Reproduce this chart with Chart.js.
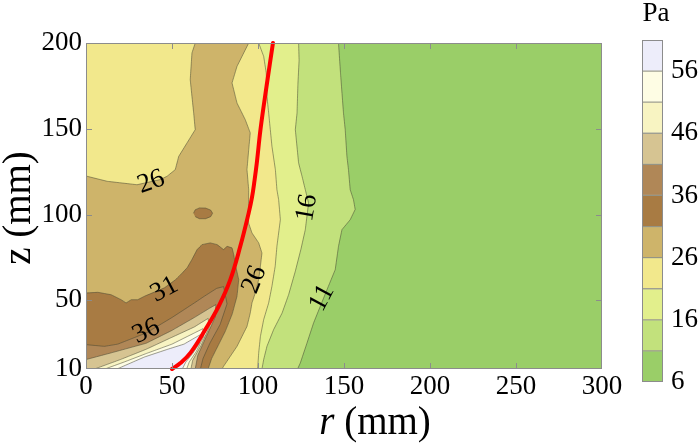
<!DOCTYPE html>
<html>
<head>
<meta charset="utf-8">
<script src="https://cdn.jsdelivr.net/npm/chart.js@4.4.1/dist/chart.umd.min.js"></script>
<style>
  html, body { margin: 0; padding: 0; background: #fff; }
  #wrap { position: relative; width: 700px; height: 447px; }
  #main { position: absolute; left: 0; top: 0; }
  #bar { position: absolute; left: 620px; top: 0; }
</style>
</head>
<body>
<div id="wrap">
  <canvas id="main" width="700" height="447"></canvas>
  <canvas id="bar" width="80" height="447"></canvas>
</div>
<script>
// contour levels (Pa) and the fill colour of each band above a level
const levels = [6, 11, 16, 21, 26, 31, 36, 41, 46, 51, 56, 61];
const bandColors = ['#9ace68', '#c2e17c', '#e2ef8c', '#f2e88c', '#ceb46a', '#a87b43', '#b08757',
                    '#d6c492', '#f8f4c2', '#fefde4', '#ededfa'];

// axis ticks
const rTicks = [0, 50, 100, 150, 200, 250, 300];
const zTicks = [10, 50, 100, 150, 200];
const cbTicks = [6, 16, 26, 36, 46, 56];

// regions above each level, [r, z] in mm (points outside the frame just close the shape)
const c6 = [[-10, 0], [310, 0], [310, 215], [-10, 215]];
const c11 = [[-10, 215], [146.8, 215], [146.8, 200], [148, 182], [149.7, 159.2], [150.7, 149.5], [151.7, 133.9],
  [152.6, 126.2], [153.6, 114.5], [155.5, 108.7], [156.5, 103], [153.6, 97], [148.8, 91.2], [146.8, 81.5],
  [144.9, 67.9], [140.1, 56.2], [136.2, 46.5], [132.3, 36.8], [128.5, 25.2], [124.6, 13.5], [123, 10], [123, 0], [-10, 0]];
const c16 = [[-10, 215], [123.6, 215], [123.6, 200], [123.9, 190], [123.2, 176], [122.7, 159.2], [121.7, 149.5],
  [123.6, 130.1], [125.6, 122.3], [127.5, 114.5], [129.4, 106.8], [127.5, 91.2], [125, 80], [121.7, 67], [117.8, 53.3],
  [114, 42.6], [109.1, 33], [105.2, 23.2], [103.3, 15.5], [102.3, 10], [102.3, 0], [-10, 0]];
const c21 = [[-10, 215], [100.4, 215], [100.4, 200], [103.3, 192.2], [104.8, 182.5], [105.2, 168.9], [106.2, 159.2],
  [108.1, 139.8], [110.1, 126.2], [111, 114.5], [112, 108.7], [113, 97], [111, 81.5], [110, 69.9], [108.1, 58.2],
  [106.2, 48.5], [103.3, 38.8], [101.4, 29], [100.4, 19.4], [99.8, 10], [99.8, 0], [-10, 0]];
const c26 = [[-10, 0], [-10, 122.3], [0.7, 122.3], [12.3, 119.4], [29.7, 117.4], [43.2, 120.4], [47.1, 122.3],
  [51.9, 126.2], [53.9, 133.9], [58.7, 141.7], [63.5, 149.5], [62.6, 159.2], [60.6, 178.6], [61.6, 194.2], [63.5, 200],
  [63.5, 215], [94.6, 215], [94.6, 200], [87.8, 186.4], [84.9, 176.7], [87.8, 165], [92.6, 155.3], [95.5, 147.6],
  [94.6, 137.8], [93.6, 126.2], [94.6, 114.5], [94.5, 102.9], [94.5, 95.1], [96.5, 89.3], [100.4, 83.5], [102.3, 77.6],
  [101.4, 69.9], [100.4, 62.1], [98.4, 54.3], [96.5, 48.5], [95.5, 42.6], [93.6, 34.8], [90.7, 29], [87.8, 23.2],
  [83.9, 17.4], [80, 11.6], [79.1, 10], [79.1, 0]];
const c31 = [[-10, 0], [-10, 54.3], [0, 54.3], [6.9, 54.7], [14.6, 53.3], [20.4, 50.4], [23.3, 48.5], [26.3, 50.4],
  [30.1, 50.4], [34, 52.4], [45.6, 57.3], [52, 62], [56, 66], [58.8, 69], [61.7, 74], [64.6, 79.6], [67.5, 82.5],
  [72.3, 83.5], [76.2, 82.5], [80, 79.6], [82, 81.5], [84.9, 80.6], [85.9, 76.7], [86.8, 70.9], [88.8, 62.1],
  [87.8, 52.4], [85, 42], [81, 32], [77, 24], [73, 16], [71, 10], [71, 0]];
const c31isle = [[62.5, 100.8], [63.5, 102.8], [66, 103.9], [69.5, 103.8], [72.5, 102.6], [73.6, 100.8],
  [72.5, 98.8], [69.5, 97.6], [66, 97.6], [63.5, 98.8]];
const c36 = [[-10, 0], [-10, 24.2], [0, 24.2], [10.7, 23.2], [18.5, 24.5], [35, 31], [50, 40], [57.2, 44.7],
  [63, 48.5], [68.8, 52.4], [76, 57], [80, 58], [82, 48], [78, 36], [72, 25], [68, 16], [66.5, 10], [66.5, 0]];
const c41 = [[-10, 0], [-10, 15.5], [0, 15.5], [15, 19.5], [35, 25], [50, 32.5], [63, 40], [72, 45.5], [75.5, 47.5],
  [75, 40], [70, 29], [65, 18], [63.5, 10], [63.5, 0]];
const c46 = [[5, 0], [5, 10], [20, 15.5], [35, 21.5], [50, 28.5], [63, 34.5], [71, 39.5], [71.5, 34], [67, 24],
  [62, 15], [61, 10], [61, 0]];
const c51 = [[11, 0], [11, 10], [22, 14], [35, 19], [50, 24.5], [63, 31], [68, 33.5], [68.5, 29], [64, 20], [60, 14],
  [58.5, 10], [58.5, 0]];
const c56 = [[18, 0], [18, 10], [34, 17], [47.5, 21.5], [57, 24.5], [63, 28], [66.5, 30], [66, 25], [62, 19],
  [58, 14], [56, 10], [56, 0]];

// red curve
const curve = [[50, 10], [54.9, 13.5], [60.7, 19.4], [69.4, 33], [77.1, 46.5], [83.9, 62.1], [89.7, 81.5],
  [94.6, 101], [96.5, 110], [98, 120], [99.3, 130], [101.5, 150], [105, 175], [108.7, 200]];

// contour labels: text and anchor [r, z]
const labelText = ['26', '16', '11', '26', '31', '36'];
const labelAt = [[37.9, 119], [128.5, 104], [137.2, 51.4], [97.9, 62.1], [45.6, 56.3], [35, 32]];
const labelTilt = [-20, -80, -62, -68, -28, -25];

const serif = '"Liberation Serif", "Times New Roman", serif';

const regions = [
  [c6, 0], [c11, 1], [c16, 2], [c21, 3], [c26, 4], [c31, 5], [c31isle, 5],
  [c36, 6], [c41, 7], [c46, 8], [c51, 9], [c56, 10]
];

const datasets = [{
  data: curve.map(p => ({x: p[0], y: p[1]})),
  showLine: true,
  borderColor: '#ff0000',
  borderWidth: 4,
  borderCapStyle: 'round',
  pointRadius: 0,
  pointHoverRadius: 0,
  tension: 0.4,
  fill: false,
  clip: 2,
  order: 0
}];
regions.forEach(([pts, band], i) => {
  datasets.push({
    data: pts.map(p => ({x: p[0], y: p[1]})),
    showLine: true,
    fill: 'shape',
    backgroundColor: bandColors[band],
    borderColor: i === 0 ? 'rgba(0,0,0,0)' : 'rgba(70,70,50,0.65)',
    borderWidth: i === 0 ? 0 : 0.8,
    pointRadius: 0,
    pointHoverRadius: 0,
    tension: 0.001,          // keeps the plain polygon path (no pixel-merging fast path)
    capBezierPoints: false,
    clip: 0,
    order: 100 - i
  });
});

const decor = {
  id: 'decor',
  afterDatasetsDraw(chart) {
    const {ctx, chartArea: a, scales: {x, y}} = chart;
    ctx.save();
    // contour labels
    ctx.fillStyle = '#000';
    ctx.font = '27px ' + serif;
    ctx.textAlign = 'center';
    ctx.textBaseline = 'middle';
    labelText.forEach((t, i) => {
      ctx.save();
      ctx.translate(x.getPixelForValue(labelAt[i][0]), y.getPixelForValue(labelAt[i][1]));
      ctx.rotate(labelTilt[i] * Math.PI / 180);
      ctx.fillText(t, 0, 0);
      ctx.restore();
    });
    // frame with inward ticks
    ctx.strokeStyle = '#8c8c8c';
    ctx.lineWidth = 1;
    ctx.strokeRect(a.left + 0.5, a.top + 0.5, a.width - 1, a.height - 1);
    ctx.beginPath();
    rTicks.slice(1, -1).forEach(v => {
      const px = Math.round(x.getPixelForValue(v)) + 0.5;
      ctx.moveTo(px, a.bottom); ctx.lineTo(px, a.bottom - 6);
      ctx.moveTo(px, a.top); ctx.lineTo(px, a.top + 6);
    });
    zTicks.slice(1, -1).forEach(v => {
      const py = Math.round(y.getPixelForValue(v)) + 0.5;
      ctx.moveTo(a.left, py); ctx.lineTo(a.left + 6, py);
      ctx.moveTo(a.right, py); ctx.lineTo(a.right - 6, py);
    });
    ctx.stroke();
    // axis titles
    ctx.fillStyle = '#000';
    ctx.textBaseline = 'middle';
    ctx.font = 'italic 39px ' + serif;
    const rW = ctx.measureText('r').width;
    ctx.font = '39px ' + serif;
    const mW = ctx.measureText(' (mm)').width;
    const cx = 375, cy = 424;
    ctx.textAlign = 'left';
    ctx.font = 'italic 39px ' + serif;
    ctx.fillText('r', cx - (rW + mW) / 2, cy);
    ctx.font = '39px ' + serif;
    ctx.fillText(' (mm)', cx - (rW + mW) / 2 + rW, cy);
    ctx.save();
    ctx.translate(20, 208);
    ctx.rotate(-Math.PI / 2);
    ctx.textAlign = 'center';
    ctx.fillText('z (mm)', 0, 0);
    ctx.restore();
    ctx.restore();
  }
};

new Chart(document.getElementById('main'), {
  type: 'scatter',
  data: {datasets},
  options: {
    responsive: false,
    animation: false,
    layout: {padding: {top: 43, right: 98, left: 0, bottom: 0}},
    plugins: {legend: {display: false}, tooltip: {enabled: false}},
    scales: {
      x: {
        type: 'linear', min: 0, max: 300,
        afterBuildTicks: s => { s.ticks = rTicks.map(v => ({value: v})); },
        afterFit: s => { s.height = 78; },
        grid: {display: false}, border: {display: false},
        ticks: {color: '#000', padding: -6, font: {family: serif, size: 27}}
      },
      y: {
        type: 'linear', min: 10, max: 200,
        afterBuildTicks: s => { s.ticks = zTicks.map(v => ({value: v})); },
        afterFit: s => { s.width = 86; },
        grid: {display: false}, border: {display: false},
        ticks: {color: '#000', padding: -4, font: {family: serif, size: 27}}
      }
    }
  },
  plugins: [decor]
});

// colour bar
const unit = {
  id: 'unit',
  afterDraw(chart) {
    const ctx = chart.ctx;
    ctx.save();
    ctx.fillStyle = '#000';
    ctx.font = '27px ' + serif;
    ctx.textAlign = 'center';
    ctx.textBaseline = 'middle';
    ctx.fillText('Pa', 36, 14);
    const a = chart.chartArea;
    ctx.strokeStyle = '#8c8c8c';
    ctx.lineWidth = 1;
    ctx.strokeRect(a.left + 0.5, a.top + 0.5, a.width - 1, a.height - 1);
    ctx.restore();
  }
};

new Chart(document.getElementById('bar'), {
  type: 'bar',
  data: {
    labels: ['Pa'],
    datasets: bandColors.map((c, i) => ({
      data: [[levels[i], levels[i + 1]]],
      backgroundColor: c,
      borderColor: 'rgba(110,110,90,0.6)',
      borderWidth: 1,
      borderSkipped: false,
      grouped: false,
      barPercentage: 1,
      categoryPercentage: 1
    }))
  },
  options: {
    responsive: false,
    animation: false,
    layout: {padding: {left: 22, top: 40, bottom: 65, right: 0}},
    plugins: {legend: {display: false}, tooltip: {enabled: false}},
    scales: {
      x: {display: false},
      y: {
        position: 'right', min: 6, max: 61,
        afterBuildTicks: s => { s.ticks = cbTicks.map(v => ({value: v})); },
        afterFit: s => { s.width = 37; },
        grid: {display: false}, border: {display: false},
        ticks: {color: '#000', padding: 0, font: {family: serif, size: 27}}
      }
    }
  },
  plugins: [unit]
});
</script>
</body>
</html>
